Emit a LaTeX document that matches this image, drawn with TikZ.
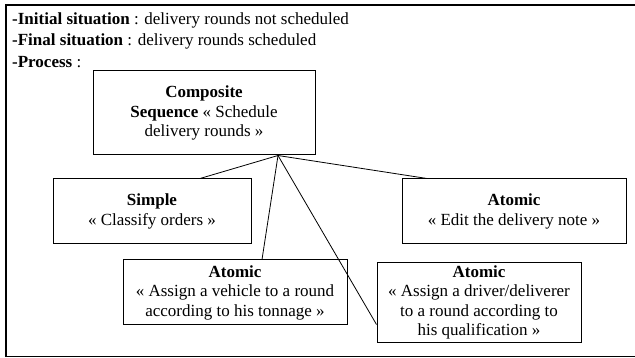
\documentclass[tikz,border=0pt]{standalone}
\usepackage{fontspec}
\setmainfont{Liberation Serif}
\begin{document}
\begin{tikzpicture}[x=1pt,y=-1pt,
  task/.style={draw,line width=1pt,align=center,inner sep=0pt,
    font=\fontsize{17}{19.5}\selectfont},
  head/.style={anchor=base west,inner sep=0pt,font=\fontsize{17}{19.5}\selectfont},
  link/.style={line width=0.8pt}]
  \useasboundingbox (0,0) rectangle (635,358);
  % outer frame
  \draw[line width=1.2pt] (6,5) rectangle (640,356.5);
  % header lines
  \node[head] (h1) at (12,25) {\textbf{-Initial situation} : delivery rounds not scheduled};
  \node[head] (h2) at (12,46) {\textbf{-Final situation} : delivery rounds scheduled};
  \node[head] (h3) at (12,68) {\textbf{-Process} :};
  % activity boxes
  \node[task,minimum width=222,minimum height=84] (comp) at (204,113)
    {\textbf{Composite}\\\textbf{Sequence} « Schedule\\delivery rounds »};
  \node[task,minimum width=198,minimum height=65] (simple) at (152,211.5)
    {\textbf{Simple}\\« Classify orders »};
  \node[task,minimum width=224,minimum height=65] (vehicle) at (235,292.5)
    {\textbf{Atomic}\\« Assign a vehicle to a round\\according to his tonnage »};
  \node[task,minimum width=224,minimum height=65] (edit) at (514,211.5)
    {\textbf{Atomic}\\« Edit the delivery note »};
  \node[task,minimum width=204,minimum height=79] (driver) at (479,302.5)
    {\textbf{Atomic}\\« Assign a driver/deliverer\\to a round according to\\his qualification »};
  % decomposition links
  \coordinate (apex) at ([xshift=74pt]comp.south);
  \draw[link] (apex) -- ([xshift=48pt]simple.north);
  \draw[link] (apex) -- ([xshift=27pt]vehicle.north);
  \draw[link] (apex) -- ([yshift=-22pt]driver.west);
  \draw[link] (apex) -- ([xshift=-87pt]edit.north);
\end{tikzpicture}
\end{document}
